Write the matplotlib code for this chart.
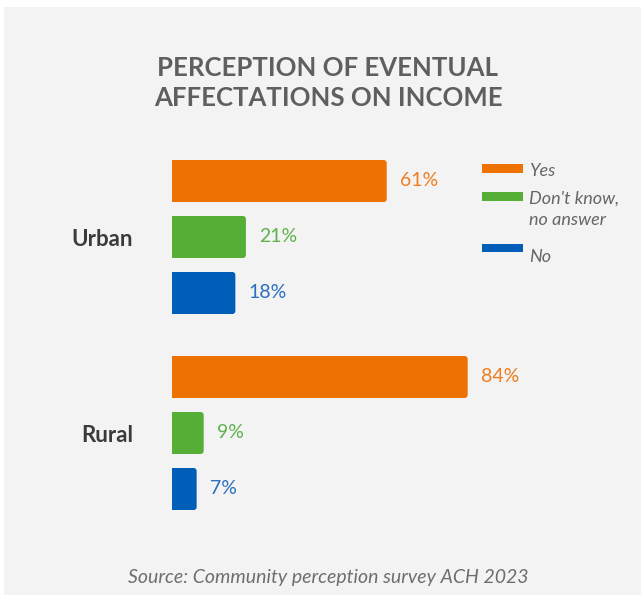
import matplotlib
matplotlib.use("Agg")
import matplotlib.pyplot as plt
from matplotlib.patches import Rectangle, FancyBboxPatch

plt.rcParams['font.family'] = ['Lato', 'DejaVu Sans']

# Data
groups = ["Urban", "Rural"]
series = ["Yes", "Don't know,\nno answer", "No"]
yes_vals = [61, 84]
dk_vals = [21, 9]
no_vals = [18, 7]

bar_colors = ["#ee7203", "#55ae36", "#005eb8"]
label_colors = ["#f07d1e", "#5fb24a", "#2b6fbf"]

W, H = 642, 597
fig = plt.figure(figsize=(W / 100, H / 100), dpi=100, facecolor="white")


def fx(px):
    return px / W


def fy(py):
    return 1 - py / H


# Light grey card behind everything
fig.patches.append(Rectangle((fx(4), fy(595)), fx(641) - fx(4), fy(7) - fy(595),
                             transform=fig.transFigure, facecolor="#f3f3f3",
                             edgecolor="none", zorder=-10))

# Axes: x in percent (3.52 px per %), y in rows of 56 px centred on Urban
ax_left, ax_right = 172, 172 + 100 * 3.52
ax_top, ax_bottom = 130, 530
ax = fig.add_axes([fx(ax_left), fy(ax_bottom), fx(ax_right) - fx(ax_left),
                   fy(ax_top) - fy(ax_bottom)])
ax.set_facecolor("none")
ax.set_xlim(0, 100)
row = 56.0
ax.set_ylim((ax_bottom - 237) / row, (ax_top - 237) / row)
for s in ax.spines.values():
    s.set_visible(False)

group_pos = [0.0, 3.5]
bar_h = 0.75
all_vals = [yes_vals, dk_vals, no_vals]

for si, vals in enumerate(all_vals):
    ys = [g - 1 + si for g in group_pos]
    bars = ax.barh(ys, vals, height=bar_h, color=bar_colors[si], alpha=0)
    for b, v in zip(bars, vals):
        x0, y0 = b.get_x(), b.get_y()
        w, h = b.get_width(), b.get_height()
        # rounded right-hand corners; the left side is clipped at the axis
        rx = 3 / 3.52
        patch = FancyBboxPatch((x0 - 2, y0), w + 2, h,
                               boxstyle=f"round,pad=0,rounding_size={rx}",
                               mutation_aspect=(1 / row) / (1 / 3.52),
                               facecolor=bar_colors[si], edgecolor="none",
                               clip_on=True)
        ax.add_patch(patch)
        patch.set_clip_path(ax.patch)
        ax.annotate(f"{v}%", (w, y0 + h / 2), xytext=(9.5, 0),
                    textcoords="offset points", va="center", ha="left",
                    fontsize=14, color=label_colors[si])

ax.set_xticks([])
ax.set_yticks(group_pos)
ax.set_yticklabels(groups, fontsize=16, fontweight="bold", color="#3a3a3a")
ax.tick_params(axis="y", length=0, pad=28)

# Legend
legend_rows = [(164, 173, [(171, "Yes")]),
               (192, 201, [(199, "Don't know,"), (220, "no answer")]),
               (244, 252, [(257, "No")])]
for i, (top, bot, texts) in enumerate(legend_rows):
    fig.patches.append(Rectangle((fx(482), fy(bot)), fx(523) - fx(482), fy(top) - fy(bot),
                                 transform=fig.transFigure, facecolor=bar_colors[i],
                                 edgecolor="none", zorder=2))
    for ty, t in texts:
        fig.text(fx(529), fy(ty), t, ha="left", va="center", fontsize=13,
                 style="italic", color="#666666")

# Title
fig.text(fx(328), fy(68), "PERCEPTION OF EVENTUAL", ha="center", va="center",
         fontsize=18.5, fontweight="bold", color="#5f5f5f")
fig.text(fx(328), fy(98), "AFFECTATIONS ON INCOME", ha="center", va="center",
         fontsize=18.5, fontweight="bold", color="#5f5f5f")

# Source note
fig.text(fx(328), fy(578), "Source: Community perception survey ACH 2023",
         ha="center", va="center", fontsize=14, style="italic", color="#6e6e6e")

fig.savefig("out.png", dpi=100, facecolor="white")
